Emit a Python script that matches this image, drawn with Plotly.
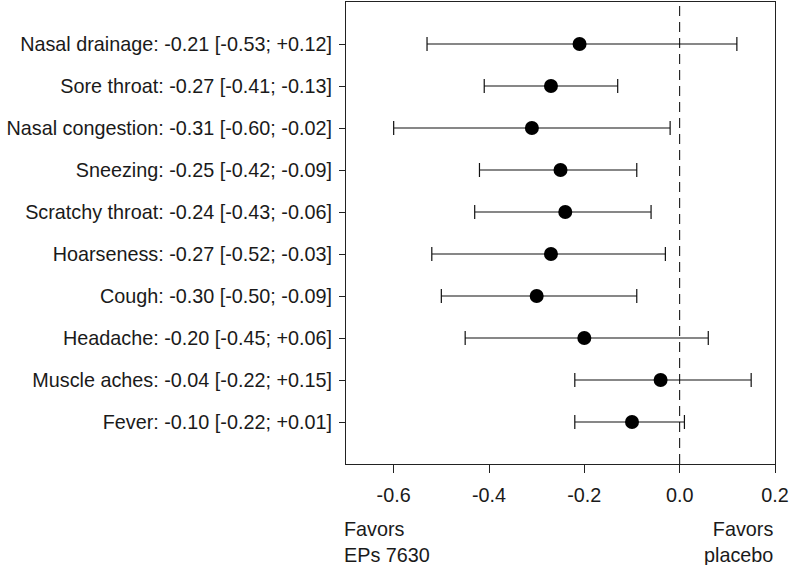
import plotly.graph_objects as go

symptoms = ["Nasal drainage", "Sore throat", "Nasal congestion", "Sneezing", "Scratchy throat",
            "Hoarseness", "Cough", "Headache", "Muscle aches", "Fever"]
estimate = [-0.21, -0.27, -0.31, -0.25, -0.24, -0.27, -0.30, -0.20, -0.04, -0.10]
lower = [-0.53, -0.41, -0.60, -0.42, -0.43, -0.52, -0.50, -0.45, -0.22, -0.22]
upper = [0.12, -0.13, -0.02, -0.09, -0.06, -0.03, -0.09, 0.06, 0.15, 0.01]
x_ticks = [-0.6, -0.4, -0.2, 0.0, 0.2]


def fmt(v):
    return ("+" if v > 0 else "") + f"{v:.2f}"


n = len(symptoms)
ypos = list(range(n, 0, -1))
labels = [f"{s}: {fmt(e)} [{fmt(l)}; {fmt(u)}]" for s, e, l, u in zip(symptoms, estimate, lower, upper)]

fig = go.Figure()
fig.add_trace(go.Scatter(
    x=estimate, y=ypos, mode="markers",
    marker=dict(color="black", size=14),
    error_x=dict(type="data", symmetric=False,
                 array=[u - e for u, e in zip(upper, estimate)],
                 arrayminus=[e - l for e, l in zip(estimate, lower)],
                 color="#111", thickness=1.2, width=7),
    showlegend=False, hoverinfo="skip"))

fig.add_shape(type="line", x0=0, x1=0, y0=0, y1=1, yref="paper",
              line=dict(color="black", width=1, dash="10px,6px"))

font = dict(family="Liberation Sans, Arial, sans-serif", size=19.8, color="#1a1a1a")

fig.update_layout(
    width=790, height=565,
    margin=dict(l=346, r=15, t=2, b=101),
    plot_bgcolor="white", paper_bgcolor="white",
    font=font,
    xaxis=dict(range=[-0.7, 0.2], tickvals=x_ticks, ticktext=[f"{v:.1f}" for v in x_ticks],
               showgrid=False, zeroline=False, showline=True, mirror=True,
               linecolor="#222", linewidth=1.2, ticks="outside", ticklen=8, tickcolor="#222",
               tickfont=font, ticklabelstandoff=5),
    yaxis=dict(range=[0, n + 1], tickvals=ypos, ticktext=labels,
               showgrid=False, zeroline=False, showline=True, mirror=True,
               linecolor="#222", linewidth=1.2, ticks="outside", ticklen=6, tickcolor="#222",
               tickfont=font, ticklabelstandoff=3),
)

fig.add_annotation(text="Favors<br>EPs 7630", x=-0.01, xref="paper", y=-0.113, yref="paper",
                   xanchor="left", yanchor="top", align="left", showarrow=False, font=font)
fig.add_annotation(text="Favors<br>placebo", x=1.0, xref="paper", y=-0.113, yref="paper",
                   xanchor="right", yanchor="top", align="right", showarrow=False, font=font)

fig.write_html("out.html", config={"displayModeBar": False},
               post_script="document.body.style.margin='0';")
